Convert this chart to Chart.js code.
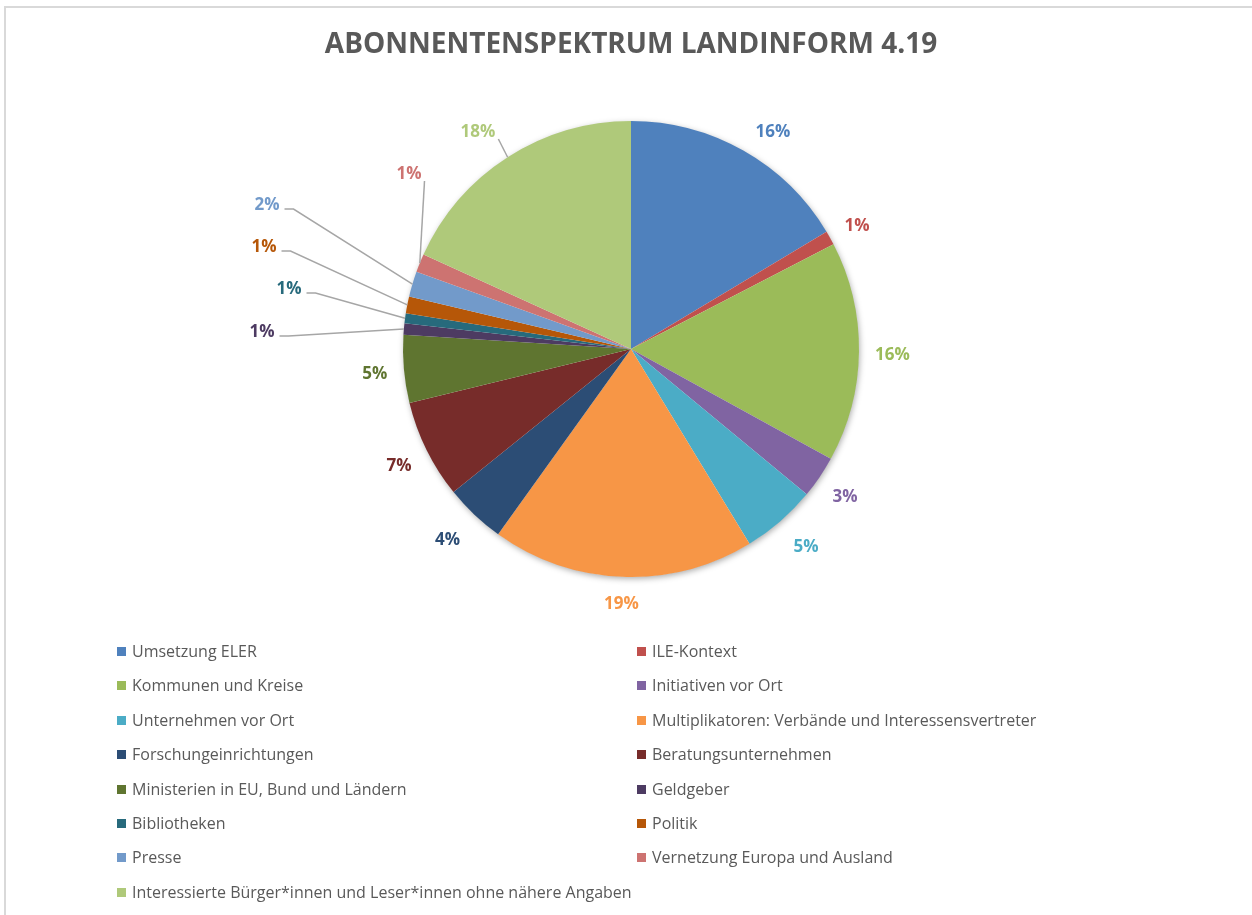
<!DOCTYPE html>
<html>
<head>
<meta charset="utf-8">
<script src="https://cdn.jsdelivr.net/npm/chart.js@4.4.1/dist/chart.umd.min.js"></script>
<style>
    body { margin: 0; background: #fff; }
    #wrap { position: relative; width: 1252px; height: 915px; overflow: hidden; }
    #frame { position: absolute; left: 4px; top: 6px; width: 1400px; height: 1000px; border: 2px solid #d9d9d9; }
    #box { position: absolute; left: 0; top: 0; width: 1252px; height: 915px; }
    #legend { position: absolute; left: 0; top: 0; font-family: "Open Sans", sans-serif; font-size: 16px; color: #595959; }
    .item { position: absolute; white-space: nowrap; line-height: 20px; }
    .item span.sw { position: absolute; left: 0; top: 6px; width: 9px; height: 9px; }
    .item span.tx { position: absolute; left: 15px; top: 0; }
</style>
</head>
<body>
<div id="wrap">
    <div id="frame"></div>
    <div id="box"><canvas id="graph"></canvas></div>
    <div id="legend"></div>
</div>
<script>
const CATEGORIES = ["Umsetzung ELER", "ILE-Kontext", "Kommunen und Kreise", "Initiativen vor Ort",
    "Unternehmen vor Ort", "Multiplikatoren: Verbände und Interessensvertreter", "Forschungeinrichtungen",
    "Beratungsunternehmen", "Ministerien in EU, Bund und Ländern", "Geldgeber", "Bibliotheken", "Politik",
    "Presse", "Vernetzung Europa und Ausland", "Interessierte Bürger*innen und Leser*innen ohne nähere Angaben"]

// Anteile in Prozent (aus dem Bild geschätzt)
const SHARES = [16.4, 1.0, 15.6, 3.0, 5.3, 18.6, 4.3, 7.0, 4.8, 0.8, 0.7, 1.2, 1.8, 1.3, 18.2]

const COLORS = ["#4F81BD", "#C0504D", "#9BBB59", "#8064A2", "#4BACC6", "#F79646", "#2C4D75", "#772C2A",
    "#5F7530", "#4D3B62", "#276A7C", "#B65708", "#729ACA", "#CD7371", "#AFC97A"]

// Beschriftungen mit Führungslinie: Versatz zur Kreismitte
const CALLOUTS = {9: [-369, -18], 10: [-342, -61], 11: [-367, -103], 12: [-364, -145], 13: [-222, -176], 14: [-153, -218]}
// kleine Verschiebungen der übrigen Beschriftungen
const NUDGE = {0: [14, 6], 4: [6, 0], 6: [-6, 0]}

const pieShadow = {
    id: 'pieShadow',
    beforeDatasetsDraw(chart) {
        const arc = chart.getDatasetMeta(0).data[0];
        if (!arc) return;
        const ctx = chart.ctx;
        ctx.save();
        ctx.shadowColor = 'rgba(0,0,0,0.35)';
        ctx.shadowBlur = 6;
        ctx.shadowOffsetX = 1;
        ctx.shadowOffsetY = 2;
        ctx.fillStyle = '#fff';
        ctx.beginPath();
        ctx.arc(arc.x, arc.y, arc.outerRadius - 0.5, 0, Math.PI * 2);
        ctx.fill();
        ctx.restore();
    }
}

const pieLabels = {
    id: 'pieLabels',
    afterDatasetsDraw(chart) {
        const ctx = chart.ctx;
        const total = SHARES.reduce((a, b) => a + b, 0);
        ctx.save();
        ctx.font = 'bold 17px "Open Sans"';
        ctx.textAlign = 'center';
        ctx.textBaseline = 'middle';
        chart.getDatasetMeta(0).data.forEach((arc, i) => {
            const mid = (arc.startAngle + arc.endAngle) / 2;
            const cos = Math.cos(mid), sin = Math.sin(mid);
            const txt = Math.round(SHARES[i] / total * 100) + '%';
            const w = ctx.measureText(txt).width, h = 16;
            let lx, ly;
            if (CALLOUTS[i]) {
                lx = arc.x + CALLOUTS[i][0];
                ly = arc.y + CALLOUTS[i][1];
                // Führungslinie
                const px = arc.x + arc.outerRadius * cos;
                const py = arc.y + arc.outerRadius * sin;
                const right = lx + w / 2;
                ctx.strokeStyle = '#a6a6a6';
                ctx.lineWidth = 1.5;
                ctx.beginPath();
                if (px - right > Math.abs(py - ly)) {
                    ctx.moveTo(right + 5, ly + 5);
                    ctx.lineTo(Math.min(right + 14, px - 2), ly + 5);
                } else {
                    ctx.moveTo(right + 3, ly + h / 2);
                }
                ctx.lineTo(px, py);
                ctx.stroke();
                ly += 1.5;
            } else {
                const d = arc.outerRadius + 16 + (w / 2 * Math.abs(cos) + h / 2 * Math.abs(sin));
                lx = arc.x + d * cos;
                ly = arc.y + d * sin + 3;
                if (NUDGE[i]) {
                    lx += NUDGE[i][0];
                    ly += NUDGE[i][1];
                }
            }
            ctx.fillStyle = COLORS[i];
            ctx.fillText(txt, lx, ly);
        });
        ctx.restore();
    }
}

let myChart;

function buildChart() {
    const ctx = document.getElementById('graph').getContext('2d');

    myChart = new Chart(ctx, {
        type: 'pie',
        data: {
            labels: CATEGORIES,
            datasets: [{
                data: SHARES,
                backgroundColor: COLORS,
                borderWidth: 0
            }]
        },
        options: {
            responsive: true,
            maintainAspectRatio: false,
            animation: false,
            layout: {padding: {left: 10, right: 0, top: 0, bottom: 338}},
            plugins: {
                legend: {display: false},
                tooltip: {enabled: false},
                title: {
                    display: true,
                    text: 'ABONNENTENSPEKTRUM LANDINFORM 4.19',
                    color: '#595959',
                    font: {family: '"Open Sans"', size: 28, weight: 'bold'},
                    padding: {top: 28.2, bottom: 59.2}
                }
            }
        },
        plugins: [pieShadow, pieLabels]
    })
}

function buildLegend() {
    const leg = document.getElementById('legend');
    const colX = [117, 637];
    CATEGORIES.forEach((name, i) => {
        const row = Math.floor(i / 2);
        const div = document.createElement('div');
        div.className = 'item';
        div.style.left = colX[i % 2] + 'px';
        div.style.top = (641 + row * 34.4) + 'px';
        div.innerHTML = '<span class="sw" style="background:' + COLORS[i] + '"></span><span class="tx"></span>';
        div.querySelector('.tx').textContent = name;
        leg.appendChild(div);
    });
}

buildChart();
buildLegend();
</script>
</body>
</html>
